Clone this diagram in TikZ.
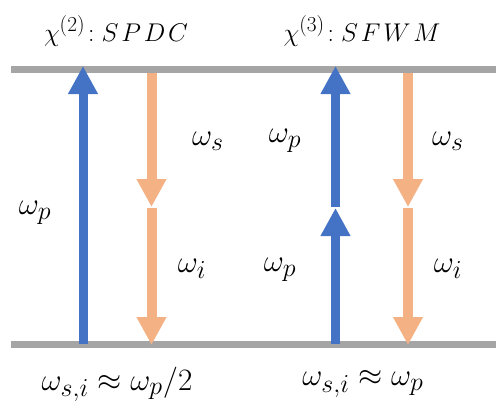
\documentclass[tikz,border=0pt]{standalone}
\usepackage{graphicx}
\usetikzlibrary{arrows.meta}
\definecolor{pumpblue}{HTML}{4472C4}
\definecolor{sigorange}{HTML}{F4B183}
\definecolor{levelgray}{HTML}{A5A5A5}
\newcommand{\biglbl}[1]{\scalebox{1.25}{$#1$}}
\newcommand{\ttllbl}[1]{\scalebox{1.03}{$#1$}}
\begin{document}
\begin{tikzpicture}[x=1pt,y=-1pt,
  level/.style={draw=levelgray,line width=6.5pt},
  pumparrow/.style={draw=pumpblue,line width=9pt,-{Triangle[width=28pt,length=28pt,fill=pumpblue]}},
  sigarrow/.style={draw=sigorange,line width=10pt,-{Triangle[width=28pt,length=28pt,fill=sigorange]}},
  lbl/.style={inner sep=0pt,font=\fontsize{24.88}{30}\selectfont},
  ttl/.style={inner sep=0pt,font=\fontsize{24.88}{30}\selectfont}]
\useasboundingbox (0,0) rectangle (496,402);
% level lines
\coordinate (tl) at (11,69.5);
\coordinate (tr) at (496,69.5);
\coordinate (bl) at (11,344.5);
\coordinate (br) at (496,344.5);
\draw[level] (tl) -- (tr);
\draw[level] (bl) -- (br);
% SPDC
\coordinate (p1b) at (83,344);
\coordinate (p1t) at (83,66);
\coordinate (s1t) at (151.5,73);
\coordinate (s1m) at (151.5,207);
\coordinate (i1t) at (151.5,208);
\coordinate (i1b) at (151.5,345);
\draw[pumparrow] (p1b) -- (p1t);
\draw[sigarrow] (s1t) -- (s1m);
\draw[sigarrow] (i1t) -- (i1b);
% SFWM
\coordinate (p2b) at (335.5,344);
\coordinate (p2m) at (335.5,208);
\coordinate (p3b) at (335.5,207);
\coordinate (p3t) at (335.5,66);
\coordinate (s2t) at (408,73);
\coordinate (s2m) at (408,207);
\coordinate (i2t) at (408,208);
\coordinate (i2b) at (408,345);
\draw[pumparrow] (p2b) -- (p2m);
\draw[pumparrow] (p3b) -- (p3t);
\draw[sigarrow] (s2t) -- (s2m);
\draw[sigarrow] (i2t) -- (i2b);
% labels
\node[ttl] (t1) at (116,31) {\ttllbl{\chi^{(2)}\!:S\mkern2mu P\mkern2mu D\mkern2mu C}};
\node[ttl] (t2) at (362,31) {\ttllbl{\chi^{(3)}\!:S\mkern2mu F\mkern2mu W\mkern2mu M}};
\node[lbl] (wp1) at (35,213) {\biglbl{\omega_p}};
\node[lbl] (ws1) at (208,141) {\biglbl{\omega_s}};
\node[lbl] (wi1) at (192,269) {\biglbl{\omega_i}};
\node[lbl] (wp2) at (285,141) {\biglbl{\omega_p}};
\node[lbl] (wp3) at (280,270) {\biglbl{\omega_p}};
\node[lbl] (ws2) at (448,141) {\biglbl{\omega_s}};
\node[lbl] (wi2) at (448,269) {\biglbl{\omega_i}};
\node[lbl] (e1) at (117,384) {\biglbl{\omega_{s,i}\approx\omega_p/2}};
\node[lbl] (e2) at (363,384) {\biglbl{\omega_{s,i}\approx\omega_p}};
\end{tikzpicture}
\end{document}
